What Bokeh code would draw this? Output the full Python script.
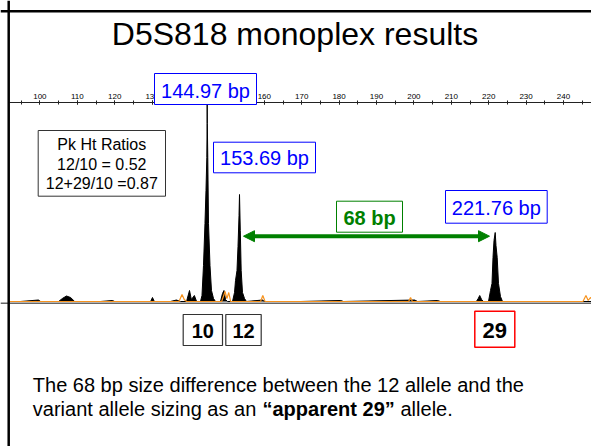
from bokeh.plotting import figure
from bokeh.models import (Range1d, LinearAxis, SingleIntervalTicker, Label,
                          BoxAnnotation, Arrow, NormalHead, Span)
from bokeh.embed import file_html
from bokeh.resources import INLINE

# ---------------- data ----------------
title_text = "D5S818 monoplex results"
sizes_bp = [144.97, 153.69, 221.76]          # called peak sizes
allele_calls = ["10", "12", "29"]
size_diff_bp = 68
ratio_lines = ["Pk Ht Ratios", "12/10 = 0.52", "12+29/10 =0.87"]

# black (blue-dye) trace: size in bp, height in RFU
trace_bp = [91.6, 94.8, 99.6, 100.2, 105.0, 106.0, 107.1, 108.2, 109.3, 116.2,
            119.4, 120.0, 129.6, 130.1, 130.6, 134.9, 136.5, 137.6, 139.2, 140.0,
            140.5, 141.3, 141.9,
            142.94, 143.34, 143.74, 144.14, 144.41, 144.63, 144.71, 144.73, 144.76,
            144.89, 145.08, 145.48, 145.88, 146.42, 146.95,
            148.29, 148.82, 149.22, 149.63, 150.16,
            151.5, 152.04, 152.30, 152.70, 152.97, 153.24, 153.37, 153.58, 153.82,
            154.17, 154.71, 155.24,
            159.52, 160.05, 169.7, 180.4, 181.2, 200.2, 201.0, 206.3, 207.1,
            216.7, 217.2, 217.6, 218.1, 218.6,
            219.95, 220.48, 220.88, 221.15, 221.42, 221.74, 221.95, 222.27, 222.62,
            223.15, 223.69, 248.5]
trace_rfu = [0, 0, 15, 0, 0, 30, 55, 40, 0, 0,
             10, 0, 0, 40, 0, 0, 15, 0, 0, 110,
             20, 60, 0,
             0, 60, 360, 780, 1110, 1440, 1780, 1970, 1780,
             1440, 780, 360, 110, 30, 0,
             0, 80, 110, 20, 0,
             0, 90, 210, 310, 550, 860, 1070, 710, 310,
             90, 30, 0,
             15, 0, 0, 10, 0, 15, 0, 10, 0,
             0, 30, 60, 20, 0,
             0, 110, 180, 440, 610, 690, 560, 440, 180,
             50, 0, 0]

# orange (size-standard) trace
orange_bp = [91.6, 137.2, 138.0, 138.6, 139.2, 148.6, 149.5, 150.0, 150.5, 151.0,
             159.0, 159.6, 160.2, 198.6, 199.1, 199.6, 245.2, 246.0, 246.6, 247.2, 248.5]
orange_rfu = [0, 0, 70, 20, 0, 0, 100, 30, 90, 0,
              0, 60, 0, 0, 40, 0, 0, 60, 10, 40, 0]

# ---------------- layout helpers (page pixel -> data) ----------------
PX_PER_BP = 3.74
def X(px):
    return 100 + (px - 39.4) / PX_PER_BP

def Y(py):
    return (301 - py) * 10

FONT = "Liberation Sans"
BLUE = "#0000FF"
GREEN = "#008000"
RED = "#FF0000"

W, H = 591, 446
p = figure(width=W, height=H,
           x_range=Range1d(X(0), X(W)),
           y_range=Range1d(Y(H), Y(0)),
           x_axis_location=None, y_axis_location=None,
           toolbar_location=None, output_backend="svg", min_border=0)
p.outline_line_color = None
p.background_fill_color = "white"
p.border_fill_color = "white"
for g in p.grid:
    g.visible = False

# size axis drawn inside the slide
axis = LinearAxis(fixed_location=Y(102.3), bounds=(X(9), X(W)),
                  ticker=SingleIntervalTicker(interval=10, num_minor_ticks=2))
axis.axis_line_color = "#222222"
axis.major_tick_line_color = "#222222"
axis.minor_tick_line_color = "#222222"
axis.major_tick_in = 2
axis.major_tick_out = 2
axis.minor_tick_in = 2
axis.minor_tick_out = 2
axis.major_label_standoff = 2
axis.major_label_text_font = FONT
axis.major_label_text_font_size = "8px"
axis.major_label_text_color = "black"
p.add_layout(axis, "above")

# electropherogram
p.varea(x=trace_bp, y1=0, y2=trace_rfu, fill_color="black")
p.line(trace_bp, trace_rfu, line_color="black", line_width=1)
p.line(orange_bp, orange_rfu, line_color="#F7931E", line_width=1.2)
p.add_layout(Span(location=Y(302.8), dimension="width",
                  line_color="#666666", line_width=1.5))

# slide border
p.add_layout(Span(location=X(8.2), dimension="height", line_color="black", line_width=2.5))
p.add_layout(Span(location=Y(10.8), dimension="width", line_color="black", line_width=2.5))


def box(l, r, t, b, color, width=1.0):
    p.add_layout(BoxAnnotation(left=X(l), right=X(r), top=Y(t), bottom=Y(b),
                               fill_color="white", fill_alpha=1.0,
                               line_color=color, line_alpha=1.0, line_width=width))


def label(text, px, base, size, color="black", bold=False, align="center"):
    # anchor so that the rendered baseline lands on `base`
    p.add_layout(Label(x=X(px), y=Y(base - 0.35 * size), text=text, text_font=FONT,
                       text_font_size=f"{size}px", text_color=color,
                       text_font_style="bold" if bold else "normal",
                       text_align=align, text_baseline="alphabetic"))


# title
label(title_text, 294.5, 44.5, 32)

# peak size boxes
size_boxes = [(154, 256, 73, 104, 97), (213, 315, 141.7, 172.3, 164.5), (445, 546.7, 190, 222.7, 214.5)]
for s, (l, r, t, b, base) in zip(sizes_bp, size_boxes):
    box(l, r, t, b, BLUE)
    label(f"{s:.2f} bp", (l + r) / 2, base, 20, BLUE)

# 68 bp arrow and box
p.add_layout(Arrow(start=NormalHead(size=11, fill_color=GREEN, line_color=GREEN),
                   end=NormalHead(size=11, fill_color=GREEN, line_color=GREEN),
                   x_start=X(243), y_start=Y(235.7), x_end=X(489), y_end=Y(235.7),
                   line_color=GREEN, line_width=4))
box(336, 402, 200.7, 231.7, GREEN)
label(f"{size_diff_bp} bp", 369, 224.3, 20, GREEN, bold=True)

# peak height ratio box
box(37.7, 165, 130, 195.7, "#333333")
for line, base in zip(ratio_lines, [149.3, 169.2, 189]):
    label(line, 101.3, base, 16)

# allele call boxes
call_boxes = [(182.7, 222, 314, 345, "#333333", 20, 337), (225.3, 260.7, 314, 345, "#333333", 20, 337),
              (474.3, 514.3, 310.7, 346.7, RED, 22, 337.5)]
for a, (l, r, t, b, c, fs, base) in zip(allele_calls, call_boxes):
    box(l, r, t, b, c, 1.5 if c == RED else 1.2)
    label(a, (l + r) / 2, base, fs, bold=True)

# explanatory text
label("The 68 bp size difference between the 12 allele and the", 32.3, 391.7, 20, align="left")
label("variant allele sizing as an", 32.3, 415.7, 20, align="left")
label("\u201capparent 29\u201d", 262.0, 415.7, 20, bold=True, align="left")
label("allele.", 400.0, 415.7, 20, align="left")

open("out.html", "w").write(file_html(p, INLINE))
